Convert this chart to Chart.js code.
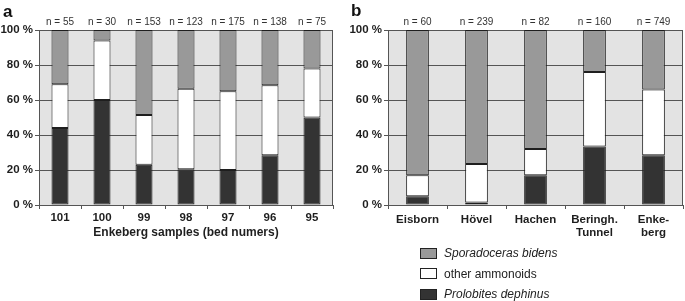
<!DOCTYPE html>
<html>
<head>
<meta charset="utf-8">
<script src="https://cdn.jsdelivr.net/npm/chart.js@4.4.0/dist/chart.umd.min.js"></script>
<style>
    body { margin: 0; background: #fff; width: 685px; height: 301px; overflow: hidden; position: relative;
           font-family: "Liberation Sans", Arial, sans-serif; }
    #wrapA { position: absolute; left: 0; top: 0; width: 340px; height: 301px; }
    #wrapB { position: absolute; left: 340px; top: 0; width: 345px; height: 301px; }
    .legend { position: absolute; left: 420px; top: 243px; font-size: 12px; color: #222; }
    .legend .item { height: 20.5px; display: flex; align-items: center; }
    .legend .box { width: 15px; height: 9px; border: 1px solid #222; margin-right: 7px; }
</style>
</head>
<body>
<div id="wrapA"><canvas id="chartA"></canvas></div>
<div id="wrapB"><canvas id="chartB"></canvas></div>
<div class="legend" id="legend"></div>

<script>
// Panel a: Enkeberg beds (percent of each sample)
const bedsA = ['101', '100', '99', '98', '97', '96', '95'];
const countsA = [55, 30, 153, 123, 175, 138, 75];
const prolobitesA = [44, 60, 23, 20.5, 20, 28.5, 50];
const otherA = [25, 34, 28.5, 46, 45, 40, 28];
const sporadocerasA = [31, 6, 48.5, 33.5, 35, 31.5, 22];

// Panel b: localities
const sitesB = ['Eisborn', 'Hövel', 'Hachen', ['Beringh.', 'Tunnel'], ['Enke-', 'berg']];
const countsB = [60, 239, 82, 160, 749];
const prolobitesB = [5, 1.5, 17, 33.5, 28.5];
const otherB = [12, 22, 15, 42.5, 37.5];
const sporadocerasB = [83, 76.5, 68, 24, 34];

const yTicks = [0, 20, 40, 60, 80, 100];

const COL_SPORA = '#999999';
const COL_OTHER = '#ffffff';
const COL_PROLO = '#333333';
const PLOT_BG = '#e3e3e3';
const GRID = '#555555';
const INK = '#1e1e1e';

// plot background, right frame edge, panel letter and n = labels
const panelPlugin = {
    id: 'panel',
    beforeDraw(chart) {
        const { ctx, chartArea: a } = chart;
        ctx.save();
        ctx.fillStyle = PLOT_BG;
        ctx.fillRect(a.left, a.top, a.width, a.height);
        ctx.restore();
    },
    beforeDatasetsDraw(chart) {
        const { ctx, chartArea: a } = chart;
        ctx.save();
        ctx.strokeStyle = GRID;
        ctx.lineWidth = 1;
        ctx.beginPath();
        ctx.moveTo(Math.round(a.right) - 0.5, a.top);
        ctx.lineTo(Math.round(a.right) - 0.5, a.bottom);
        ctx.stroke();
        ctx.restore();
    },
    afterDraw(chart, args, opts) {
        const { ctx, chartArea: a, scales } = chart;
        ctx.save();
        ctx.fillStyle = '#111';
        ctx.font = 'bold 17px "Liberation Sans", Arial, sans-serif';
        ctx.textAlign = 'left';
        ctx.textBaseline = 'middle';
        ctx.fillText(opts.letter, opts.letterX, opts.letterY);

        ctx.fillStyle = '#333';
        ctx.font = '10px "Liberation Sans", Arial, sans-serif';
        ctx.textAlign = 'center';
        opts.counts.forEach((n, i) => {
            ctx.fillText('n = ' + n, scales.x.getPixelForValue(i), a.top - 8);
        });
        ctx.restore();
    }
};

function makeChart(id, labels, prolo, other, spora, o) {
    const bar = {
        borderColor: INK,
        borderWidth: 1,
        borderSkipped: false,
        barPercentage: o.barPct,
        categoryPercentage: 1
    };
    return new Chart(document.getElementById(id), {
        type: 'bar',
        data: {
            labels: labels,
            datasets: [
                Object.assign({ label: 'Prolobites dephinus', data: prolo, backgroundColor: COL_PROLO }, bar),
                Object.assign({ label: 'other ammonoids', data: other, backgroundColor: COL_OTHER }, bar),
                Object.assign({ label: 'Sporadoceras bidens', data: spora, backgroundColor: COL_SPORA }, bar)
            ]
        },
        options: {
            responsive: true,
            maintainAspectRatio: false,
            animation: false,
            layout: { padding: { top: 30, right: o.padRight, bottom: 56, left: 0 } },
            plugins: {
                legend: { display: false },
                tooltip: { enabled: false },
                panel: { letter: o.letter, letterX: o.letterX, letterY: o.letterY, counts: o.counts }
            },
            scales: {
                x: {
                    stacked: true,
                    afterFit: (s) => { s.height = 40; },
                    grid: { offset: true, drawOnChartArea: false, tickLength: 4, color: GRID },
                    border: { color: GRID },
                    ticks: {
                        padding: o.xPad,
                        color: INK,
                        font: { family: '"Liberation Sans", Arial, sans-serif', size: 11.5, weight: 'bold' }
                    },
                    title: {
                        display: !!o.xTitle,
                        text: o.xTitle || '',
                        color: INK,
                        padding: { top: 0, bottom: 5 },
                        font: { family: '"Liberation Sans", Arial, sans-serif', size: 12, weight: 'bold' }
                    }
                },
                y: {
                    stacked: true,
                    min: 0,
                    max: 100,
                    afterFit: (s) => { s.width = o.yWidth; },
                    afterBuildTicks: (s) => { s.ticks = yTicks.map(v => ({ value: v })); },
                    grid: { color: GRID, tickLength: 4 },
                    border: { color: GRID },
                    ticks: {
                        padding: 2,
                        color: INK,
                        callback: (v) => v + ' %',
                        font: { family: '"Liberation Sans", Arial, sans-serif', size: 11.5, weight: 'bold' }
                    }
                }
            }
        },
        plugins: [panelPlugin]
    });
}

makeChart('chartA', bedsA, prolobitesA, otherA, sporadocerasA, {
    letter: 'a', letterX: 3, letterY: 12, counts: countsA,
    barPct: 0.405, padRight: 7, yWidth: 39, xPad: 2,
    xTitle: 'Enkeberg samples (bed numers)'
});

makeChart('chartB', sitesB, prolobitesB, otherB, sporadocerasB, {
    letter: 'b', letterX: 11, letterY: 11, counts: countsB,
    barPct: 0.385, padRight: 2, yWidth: 48, xPad: 3.5
});

// legend, in the order of the reference
const legendItems = [
    { text: 'Sporadoceras bidens', color: COL_SPORA, italic: true },
    { text: 'other ammonoids', color: COL_OTHER, italic: false },
    { text: 'Prolobites dephinus', color: COL_PROLO, italic: true }
];
const legendEl = document.getElementById('legend');
legendItems.forEach(it => {
    const row = document.createElement('div');
    row.className = 'item';
    const box = document.createElement('span');
    box.className = 'box';
    box.style.background = it.color;
    const label = document.createElement('span');
    label.textContent = it.text;
    if (it.italic) label.style.fontStyle = 'italic';
    row.appendChild(box);
    row.appendChild(label);
    legendEl.appendChild(row);
});
</script>
</body>
</html>
